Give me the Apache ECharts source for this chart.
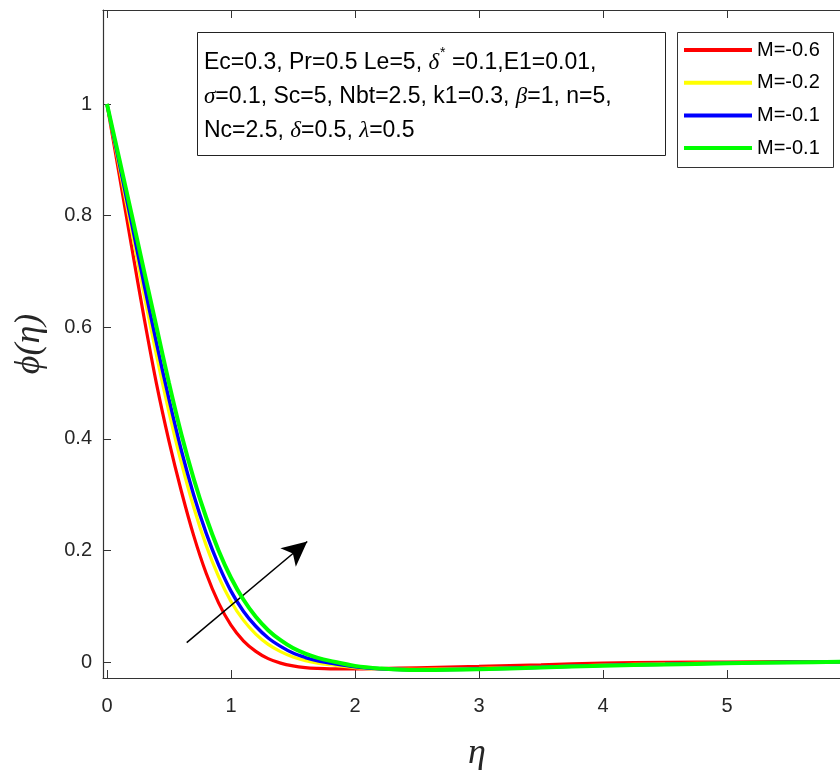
<!DOCTYPE html>
<html>
<head>
<meta charset="utf-8">
<script src="https://cdn.jsdelivr.net/npm/echarts@6/dist/echarts.min.js"></script>
<style>
  html, body { margin: 0; padding: 0; background: #fff; }
  #chart { width: 840px; height: 770px; }
</style>
</head>
<body>
<div id="chart"></div>
<script>
// Similarity variable eta
const eta = [0, 0.1, 0.2, 0.3, 0.4, 0.5, 0.6, 0.7, 0.8, 0.9, 1.0, 1.1, 1.2, 1.3, 1.4, 1.5, 1.6, 1.7, 1.8,
             2.0, 2.2, 2.5, 3.0, 3.5, 4.0, 4.5, 5.0, 5.5, 6.0];

// Concentration profiles phi(eta)
const phiM06 = [1, 0.872, 0.743, 0.616, 0.498, 0.396, 0.306, 0.226, 0.159, 0.106, 0.066, 0.038, 0.019, 0.006, -0.002, -0.007, -0.010, -0.0115, -0.0123,
                -0.0125, -0.0118, -0.0105, -0.008, -0.005, -0.002, -0.0008, 0.0, 0.0005, 0.0008];
const phiM02 = [1, 0.8865, 0.772, 0.658, 0.549, 0.448, 0.357, 0.277, 0.209, 0.153, 0.1085, 0.075, 0.050, 0.0315, 0.0185, 0.009, 0.0025, -0.002, -0.005,
                -0.010, -0.0125, -0.013, -0.0115, -0.009, -0.0055, -0.0035, -0.0018, -0.0005, 0.0003];
const phiM01a = [1, 0.893, 0.785, 0.676, 0.571, 0.471, 0.379, 0.299, 0.231, 0.174, 0.127, 0.091, 0.064, 0.043, 0.028, 0.016, 0.008, 0.002, -0.002,
                 -0.0085, -0.012, -0.014, -0.0125, -0.0095, -0.006, -0.004, -0.002, -0.0006, 0.0003];
const phiM01b = [1, 0.901, 0.801, 0.700, 0.600, 0.500, 0.408, 0.328, 0.259, 0.200, 0.151, 0.112, 0.081, 0.057, 0.039, 0.025, 0.015, 0.0075, 0.002,
                 -0.007, -0.0115, -0.0145, -0.013, -0.010, -0.0066, -0.0045, -0.0024, -0.0008, 0.0005];

const legendLabels = ['M=-0.6', 'M=-0.2', 'M=-0.1', 'M=-0.1'];
const xTicks = [0, 1, 2, 3, 4, 5, 6];
const yTicks = [0, 0.2, 0.4, 0.6, 0.8, 1];

// Trend arrow (increasing M), in data coordinates
const arrowFrom = [0.643, 0.0346];
const arrowTo = [1.615, 0.216];

const profiles = [phiM06, phiM02, phiM01a, phiM01b];
const colors = ['#ff0000', '#ffff00', '#0000ff', '#00ff00'];
const widths = [3.2, 3.2, 3.4, 4];

const axisColor = '#333333';
const tickFont = 'Liberation Sans, Arial, sans-serif';
const mathFont = 'Liberation Serif, DejaVu Serif, serif';

const series = profiles.map((vals, i) => ({
  name: 's' + i,
  type: 'line',
  data: eta.map((x, k) => [x, vals[k]]),
  smooth: 0.35,
  symbol: 'none',
  color: colors[i],
  lineStyle: { width: widths[i], color: colors[i] },
  z: 2 + i,
  animation: false
}));

series[0].markLine = {
  silent: true,
  animation: false,
  symbol: ['none', 'arrow'],
  symbolSize: [18, 25],
  lineStyle: { color: '#000', width: 1.5, type: 'solid' },
  label: { show: false },
  data: [[{ coord: arrowFrom }, { coord: arrowTo }]]
};

const chart = echarts.init(document.getElementById('chart'), null, { renderer: 'canvas' });

chart.setOption({
  backgroundColor: '#ffffff',
  animation: false,
  grid: { left: 103, top: 10, width: 748, height: 668, containLabel: false, outerBoundsMode: 'none' },
  xAxis: [{
    type: 'value', min: -0.032, max: 6, position: 'bottom',
    name: 'η', nameLocation: 'middle', nameGap: 58,
    nameTextStyle: { fontFamily: mathFont, fontStyle: 'italic', fontSize: 36, color: '#262626' },
    axisLine: { show: true, onZero: false, lineStyle: { color: axisColor, width: 1.2 } },
    axisTick: { show: true, inside: true, length: 8, customValues: xTicks, lineStyle: { color: axisColor } },
    axisLabel: { customValues: xTicks, margin: 18, fontFamily: tickFont, fontSize: 20, color: '#262626' },
    splitLine: { show: false }
  }, {
    type: 'value', min: -0.032, max: 6, position: 'top',
    axisLine: { show: true, onZero: false, lineStyle: { color: axisColor, width: 1.2 } },
    axisTick: { show: true, inside: true, length: 8, customValues: xTicks, lineStyle: { color: axisColor } },
    axisLabel: { show: false },
    splitLine: { show: false }
  }],
  yAxis: [{
    type: 'value', min: -0.0287, max: 1.1685,
    name: 'ϕ(η)', nameLocation: 'middle', nameGap: 55,
    nameTextStyle: { fontFamily: mathFont, fontStyle: 'italic', fontSize: 36, color: '#262626' },
    axisLine: { show: true, onZero: false, lineStyle: { color: axisColor, width: 1.2 } },
    axisTick: { show: true, inside: true, length: 8, customValues: yTicks, lineStyle: { color: axisColor } },
    axisLabel: { customValues: yTicks, margin: 11, fontFamily: tickFont, fontSize: 20, color: '#262626',
                 formatter: v => String(Math.round(v * 10) / 10) },
    splitLine: { show: false }
  }],
  legend: {
    orient: 'vertical',
    left: 684, top: 39,
    padding: 0,
    itemWidth: 68, itemHeight: 4, itemGap: 10.7,
    icon: 'rect',
    data: series.map(s => s.name),
    formatter: name => legendLabels[Number(name.slice(1))],
    textStyle: { fontFamily: tickFont, fontSize: 20, lineHeight: 22, color: '#000' },
    selectedMode: false
  },
  graphic: [
    {
      type: 'rect', left: 677, top: 32, z: 0,
      shape: { width: 156, height: 135 },
      style: { fill: '#fff', stroke: '#333', lineWidth: 1 }
    },
    {
      type: 'rect', left: 197, top: 32, z: 0,
      shape: { width: 468, height: 123 },
      style: { fill: '#fff', stroke: '#222', lineWidth: 1 }
    },
    {
      type: 'text', left: 204, top: 46, z: 10,
      style: {
        text: 'Ec=0.3, Pr=0.5 Le=5, {g|δ}{sup|*} =0.1,E1=0.01,\n' +
              '{g|σ}=0.1, Sc=5, Nbt=2.5, k1=0.3, {g|β}=1, n=5,\n' +
              'Nc=2.5, {g|δ}=0.5, {g|λ}=0.5',
        font: '23px Liberation Sans, Arial, sans-serif',
        fill: '#000',
        lineHeight: 34,
        rich: {
          g: { fontFamily: mathFont, fontStyle: 'italic', fontSize: 23, fill: '#000', lineHeight: 34 },
          sup: { fontFamily: tickFont, fontSize: 14, fill: '#000', verticalAlign: 'top', lineHeight: 34, padding: [0, 0, 13, 1] }
        }
      }
    }
  ],
  series: series
});
</script>
</body>
</html>
